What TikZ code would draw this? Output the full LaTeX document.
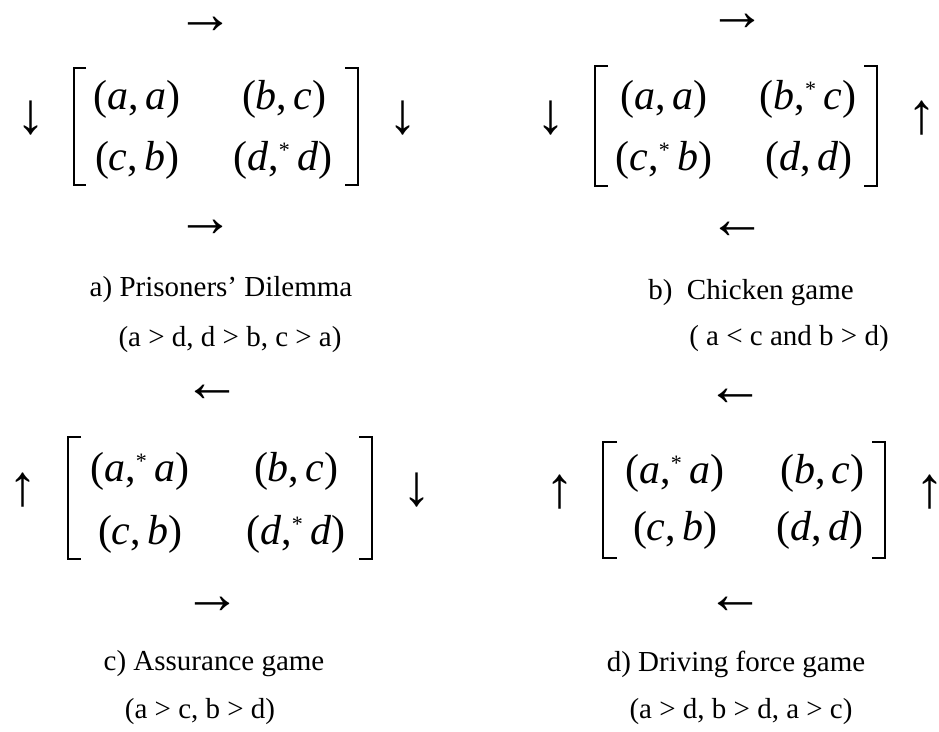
\documentclass[tikz,border=0pt]{standalone}
\usepackage{fontspec}
\setmainfont{Liberation Serif}
\begin{document}
\begin{tikzpicture}[x=1pt,y=-1pt,
  captxt/.style={inner sep=0pt,font=\fontsize{29}{34}\selectfont},
  entry/.style={inner sep=0pt,font=\fontsize{42}{46}\selectfont},
  arr/.style={inner sep=0pt,font=\fontsize{58}{60}\selectfont},
  brk/.style={line width=1.6pt,line cap=butt,line join=miter}]
\useasboundingbox (0,0) rectangle (939,731);
\newcommand{\myast}{\raisebox{0.3em}{\fontsize{22}{22}\selectfont *}}
\newcommand{\gent}[2]{(\textit{#1},\hspace{0.14em}\textit{#2})}
\newcommand{\gents}[2]{(\textit{#1},\myast\hspace{0.18em}\textit{#2})}
% ---------- a) ----------
\node[arr] (aT) at (205,25) {→};
\node[arr] (aL) at (31,118) {↓};
\node[arr] (aR) at (403,118) {↓};
\node[arr] (aB) at (205,228) {→};
\draw[brk] (86,68) -- (74,68) -- (74,185) -- (86,185);
\draw[brk] (345,68) -- (358,68) -- (358,185) -- (345,185);
\node[entry] (a11) at (137,99) {\gent{a}{a}};
\node[entry] (a12) at (284,99) {\gent{b}{c}};
\node[entry] (a21) at (137,160) {\gent{c}{b}};
\node[entry] (a22) at (283,160) {\gents{d}{d}};
\node[captxt] (aC) at (221,290) {a) Prisoners’ Dilemma};
\node[captxt] (aK) at (230,340) {(a > d, d > b, c > a)};
% ---------- b) ----------
\node[arr] (bT) at (737,22) {→};
\node[arr] (bL) at (551,118) {↓};
\node[arr] (bR) at (922,118) {↑};
\node[arr] (bB) at (737,230) {←};
\draw[brk] (608,66) -- (595,66) -- (595,186) -- (608,186);
\draw[brk] (864,66) -- (877,66) -- (877,186) -- (864,186);
\node[entry] (b11) at (664,99) {\gent{a}{a}};
\node[entry] (b12) at (808,99) {\gents{b}{c}};
\node[entry] (b21) at (664,160) {\gents{c}{b}};
\node[entry] (b22) at (809,160) {\gent{d}{d}};
\node[captxt] (bC) at (751,293) {b)\ \ Chicken game};
\node[captxt] (bK) at (789,339) {( a < c and b > d)};
% ---------- c) ----------
\node[arr] (cT) at (212,393) {←};
\node[arr] (cL) at (23,490) {↑};
\node[arr] (cR) at (417,490) {↓};
\node[arr] (cB) at (212,605) {→};
\draw[brk] (81,437) -- (68,437) -- (68,559) -- (81,559);
\draw[brk] (359,437) -- (372,437) -- (372,559) -- (359,559);
\node[entry] (c11) at (140,471) {\gents{a}{a}};
\node[entry] (c12) at (296,471) {\gent{b}{c}};
\node[entry] (c21) at (140,534) {\gent{c}{b}};
\node[entry] (c22) at (296,534) {\gents{d}{d}};
\node[captxt] (cC) at (214,664) {c) Assurance game};
\node[captxt] (cK) at (200,712) {(a > c, b > d)};
% ---------- d) ----------
\node[arr] (dT) at (735,397) {←};
\node[arr] (dL) at (560,492) {↑};
\node[arr] (dR) at (930,492) {↑};
\node[arr] (dB) at (735,605) {←};
\draw[brk] (617,442) -- (603,442) -- (603,558) -- (617,558);
\draw[brk] (872,442) -- (885,442) -- (885,558) -- (872,558);
\node[entry] (d11) at (675,473) {\gents{a}{a}};
\node[entry] (d12) at (822,473) {\gent{b}{c}};
\node[entry] (d21) at (675,530) {\gent{c}{b}};
\node[entry] (d22) at (820,530) {\gent{d}{d}};
\node[captxt] (dC) at (736,664) {d) Driving force game};
\node[captxt] (dK) at (741,712) {(a > d, b > d, a > c)};
\end{tikzpicture}
\end{document}
